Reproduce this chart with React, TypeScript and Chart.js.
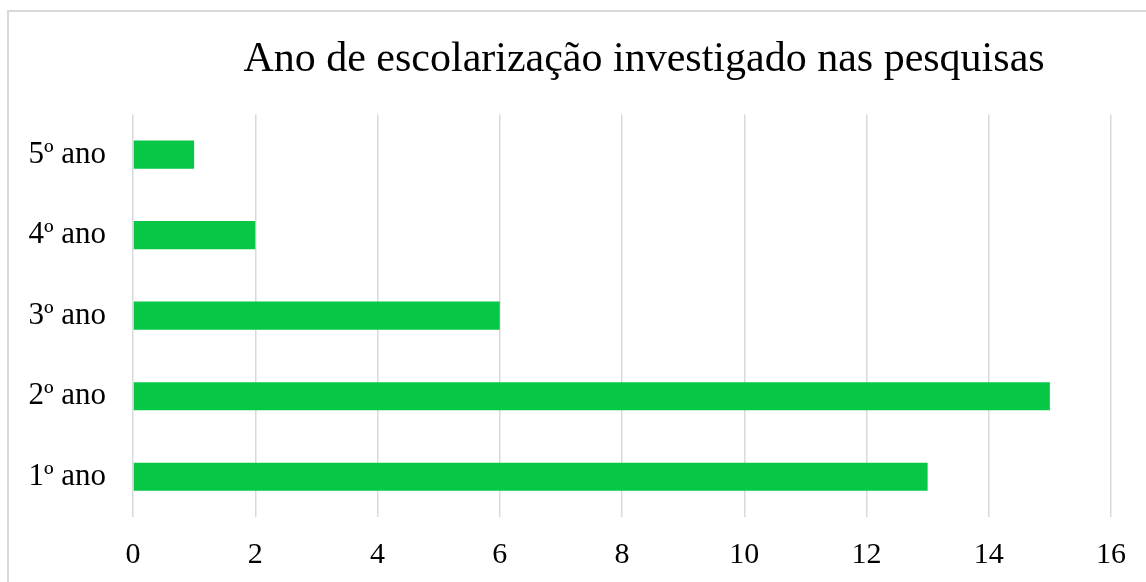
import React, { useEffect, useRef } from "react";
import { Chart, registerables } from "chart.js";

Chart.register(...registerables);

const categories = ["1º ano", "2º ano", "3º ano", "4º ano", "5º ano"];
const values = [13, 15, 6, 2, 1];
const xMin = 0;
const xMax = 16;
const xStep = 2;
const titleText = "Ano de escolarização investigado nas pesquisas";

const SERIF = "'Liberation Serif', 'Times New Roman', serif";

export default function App() {
  const ref = useRef<HTMLCanvasElement | null>(null);

  useEffect(() => {
    document.body.style.margin = "0";
    document.body.style.overflow = "hidden";
    const canvas = ref.current;
    if (!canvas) return;
    const chart = new Chart(canvas, {
      type: "bar",
      data: {
        labels: categories,
        datasets: [
          {
            data: values,
            backgroundColor: "#07C846",
            borderWidth: 0,
            categoryPercentage: 0.5,
            barPercentage: 0.7,
          },
        ],
      },
      options: {
        indexAxis: "y",
        responsive: false,
        animation: false,
        layout: { padding: { left: 0, right: 0, top: 0, bottom: 0 } },
        plugins: {
          legend: { display: false },
          tooltip: { enabled: false },
          title: {
            display: true,
            text: titleText,
            color: "#000000",
            font: { family: SERIF, size: 42, weight: "normal" },
            padding: { top: 23, bottom: 29 },
          },
        },
        scales: {
          x: {
            min: xMin,
            max: xMax,
            ticks: {
              stepSize: xStep,
              color: "#000000",
              font: { family: SERIF, size: 30 },
              padding: 20,
            },
            grid: {
              color: "#d9d9d9",
              lineWidth: 1.5,
              drawTicks: false,
            },
            border: { display: false },
            afterFit: (scale: any) => {
              scale.height = 65;
            },
          },
          y: {
            reverse: true,
            ticks: {
              color: "#000000",
              font: { family: SERIF, size: 31 },
              padding: 27,
            },
            grid: { display: false, drawTicks: false },
            border: { display: false },
            afterFit: (scale: any) => {
              scale.width = 124;
            },
          },
          spacer: {
            type: "linear",
            position: "right",
            display: true,
            ticks: { display: false },
            grid: { display: false, drawTicks: false },
            border: { display: false },
            afterFit: (scale: any) => {
              scale.width = 168;
            },
          },
        },
      },
    });
    return () => chart.destroy();
  }, []);

  return (
    <div
      style={{
        position: "fixed",
        left: 7,
        top: 10,
        width: 1139,
        height: 572,
        overflow: "hidden",
        borderLeft: "2px solid #d9d9d9",
        borderTop: "2px solid #d9d9d9",
        background: "#ffffff",
      }}
    >
      <canvas
        ref={ref}
        width={1270}
        height={570}
        style={{ display: "block", width: 1270, height: 570 }}
      />
    </div>
  );
}
